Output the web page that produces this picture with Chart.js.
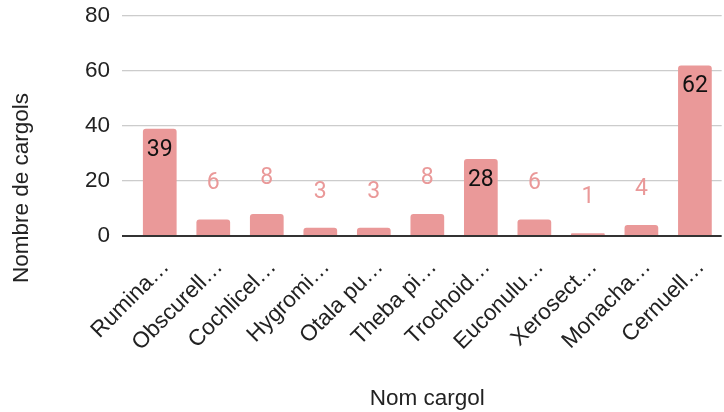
<!DOCTYPE html>
<html>
<head>
<meta charset="utf-8">
<script src="https://cdn.jsdelivr.net/npm/chart.js@4"></script>
<style>
  html, body { margin: 0; padding: 0; background: #fff; }
  #wrap { width: 724px; height: 412px; }
</style>
</head>
<body>
<div id="wrap"><canvas id="cargolChart"></canvas></div>
<script>
// Data
const categories = ['Rumina…', 'Obscurell…', 'Cochlicel…', 'Hygromi…', 'Otala pu…', 'Theba pi…', 'Trochoid…', 'Euconulu…', 'Xerosect…', 'Monacha…', 'Cernuell…'];
const counts = [39, 6, 8, 3, 3, 8, 28, 6, 1, 4, 62];
const yTicks = [0, 20, 40, 60, 80];

const barColor = '#ea9999';
const axisFont = "'Liberation Sans', Arial, sans-serif";

// value labels: inside the bar for tall bars, above it for short ones
const valueLabels = {
  id: 'valueLabels',
  afterDatasetsDraw(chart) {
    const ctx = chart.ctx;
    const meta = chart.getDatasetMeta(0);
    ctx.save();
    ctx.font = "23px Roboto, 'Liberation Sans', sans-serif";
    ctx.textAlign = 'center';
    ctx.textBaseline = 'middle';
    meta.data.forEach((bar, i) => {
      const v = counts[i];
      if (v >= 20) {
        ctx.fillStyle = '#111';
        ctx.fillText(v, bar.x, bar.y + 21);
      } else {
        ctx.fillStyle = barColor;
        ctx.fillText(v, bar.x, bar.y - 36);
      }
    });
    ctx.restore();
  }
};

// y axis title sits lower than the chart area centre in the reference
const yTitle = {
  id: 'yTitle',
  afterDraw(chart) {
    const ctx = chart.ctx;
    ctx.save();
    ctx.translate(22, 188);
    ctx.rotate(-Math.PI / 2);
    ctx.font = '22.5px ' + axisFont;
    ctx.fillStyle = '#222';
    ctx.textAlign = 'center';
    ctx.textBaseline = 'middle';
    ctx.fillText('Nombre de cargols', 0, 0);
    ctx.restore();
  }
};

const chart = new Chart(document.getElementById('cargolChart'), {
  type: 'bar',
  data: {
    labels: categories,
    datasets: [{
      data: counts,
      backgroundColor: barColor,
      borderRadius: 3,
      borderSkipped: 'start',
      barPercentage: 0.63,
      categoryPercentage: 1
    }]
  },
  options: {
    responsive: true,
    maintainAspectRatio: false,
    animation: false,
    layout: { padding: { left: 0, right: 0, top: 16, bottom: 0 } },
    plugins: {
      legend: { display: false },
      tooltip: { enabled: false }
    },
    scales: {
      x: {
        grid: { display: false },
        border: { display: false },
        ticks: {
          color: '#222',
          font: { family: axisFont, size: 22.5 },
          minRotation: 45,
          maxRotation: 45,
          autoSkip: false,
          padding: 10,
          labelOffset: 6
        },
        title: {
          display: true,
          text: 'Nom cargol',
          color: '#222',
          font: { family: axisFont, size: 22.5 },
          padding: { top: 1, bottom: 0 }
        },
        afterFit(scale) { scale.height = 176; }
      },
      y: {
        min: 0,
        max: 80,
        afterBuildTicks(scale) { scale.ticks = yTicks.map(v => ({ value: v })); },
        border: { display: false },
        grid: {
          color: c => c.tick && c.tick.value === 0 ? '#333' : '#cccccc',
          tickColor: c => c.tick && c.tick.value === 0 ? '#333' : '#cccccc',
          lineWidth: c => c.tick && c.tick.value === 0 ? 2 : 1.3,
          tickLength: 11
        },
        ticks: {
          color: '#222',
          font: { family: axisFont, size: 22.5 },
          padding: 12
        },
        afterFit(scale) {
          scale.width = 133;
          scale.paddingTop = 0;
          scale.paddingBottom = 0;
        }
      }
    }
  },
  plugins: [valueLabels, yTitle]
});
</script>
</body>
</html>
